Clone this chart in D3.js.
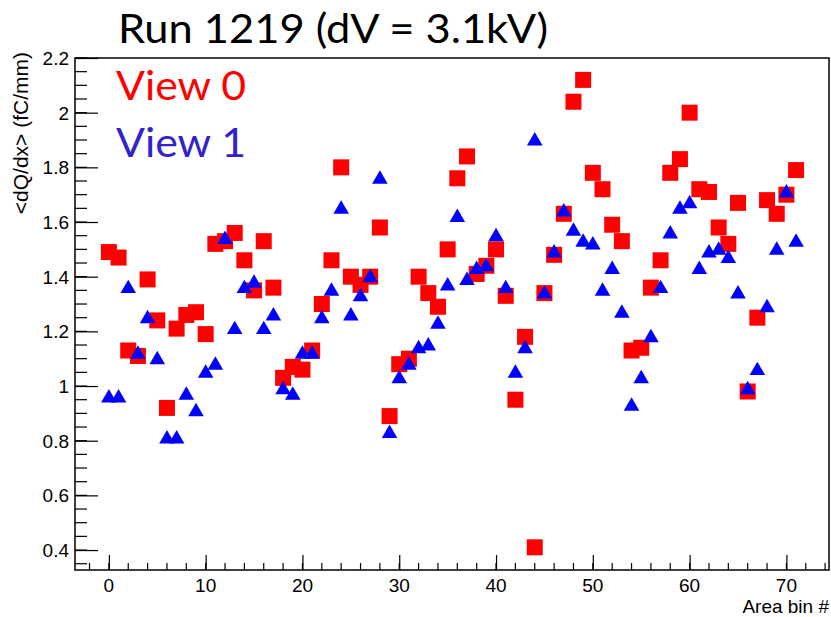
<!DOCTYPE html>
<html>
<head>
<meta charset="utf-8">
<script src="https://cdn.jsdelivr.net/npm/d3@7"></script>
<style>
  html, body { margin: 0; padding: 0; background: #fff; }
  svg { display: block; }
</style>
</head>
<body>
<svg id="chart" width="831" height="617"></svg>
<script>
const titleText = "Run 1219 (dV = 3.1kV)";
const xTitle = "Area bin #";
const yTitle = "<dQ/dx> (fC/mm)";
const seriesNames = ["View 0", "View 1"];

const bins = d3.range(0, 72);
const view0 = [1.49, 1.47, 1.13, 1.11, 1.39, 1.24, 0.92, 1.21, 1.26, 1.27, 1.19, 1.52, 1.53, 1.56, 1.46, 1.35,
  1.53, 1.36, 1.03, 1.07, 1.06, 1.13, 1.30, 1.46, 1.80, 1.40, 1.37, 1.40, 1.58, 0.89,
  1.08, 1.10, 1.40, 1.34, 1.29, 1.50, 1.76, 1.84, 1.41, 1.44, 1.50, 1.33, 0.95, 1.18,
  0.41, 1.34, 1.48, 1.63, 2.04, 2.12, 1.78, 1.72, 1.59, 1.53, 1.13, 1.14, 1.36, 1.46,
  1.78, 1.83, 2.00, 1.72, 1.71, 1.58, 1.52, 1.67, 0.98, 1.25, 1.68, 1.63, 1.70, 1.79];
const view1 = [0.96, 0.96, 1.36, 1.12, 1.25, 1.10, 0.81, 0.81, 0.97, 0.91, 1.05, 1.08, 1.54, 1.21, 1.36, 1.38,
  1.21, 1.26, 0.99, 0.97, 1.12, 1.12, 1.25, 1.35, 1.65, 1.26, 1.33, 1.40, 1.76, 0.83,
  1.03, 1.08, 1.14, 1.15, 1.23, 1.37, 1.62, 1.39, 1.43, 1.44, 1.55, 1.36, 1.05, 1.14,
  1.90, 1.34, 1.49, 1.64, 1.57, 1.53, 1.52, 1.35, 1.43, 1.27, 0.93, 1.03, 1.18, 1.36,
  1.56, 1.65, 1.67, 1.43, 1.49, 1.50, 1.47, 1.34, 0.99, 1.06, 1.29, 1.50, 1.71, 1.53];
const xTicks = [0, 10, 20, 30, 40, 50, 60, 70];
const yTicks = [0.4, 0.6, 0.8, 1, 1.2, 1.4, 1.6, 1.8, 2, 2.2];

const svg = d3.select("#chart");
const L = 75, R = 829, T = 58, B = 570;
const x = d3.scaleLinear().domain([-3.5, 74.4]).range([L, R]);
const y = d3.scaleLinear().domain([0.327, 2.2]).range([B, T]);
const FONT = "Liberation Sans, Arial, Helvetica, sans-serif";
const BIG = "Lato, 'Open Sans', sans-serif";

svg.append("rect").attr("width", 831).attr("height", 617).attr("fill", "#fff");

// markers
const blue = "#0000ff", red = "#ff0000";
const g = svg.append("g");
g.selectAll("rect.v0").data(bins).join("rect").attr("class", "v0")
  .attr("x", d => x(d) - 8).attr("y", (d, i) => y(view0[i]) - 8)
  .attr("width", 16).attr("height", 16).attr("fill", red);
const tri = d3.symbol().type(d3.symbolTriangle).size(105);
g.selectAll("path.v1").data(bins).join("path").attr("class", "v1")
  .attr("transform", (d, i) => `translate(${x(d)},${y(view1[i]) + 1})`)
  .attr("d", tri).attr("fill", blue);

// frame
svg.append("rect").attr("x", L).attr("y", T).attr("width", R - L).attr("height", B - T)
  .attr("fill", "none").attr("stroke", "#000").attr("stroke-width", 1.5);

// y axis ticks
const yAx = svg.append("g").attr("transform", `translate(${L},0)`);
const yMinor = d3.range(0.35, 2.2001, 0.05).filter(v => v > 0.327);
yAx.selectAll("line.mi").data(yMinor).join("line").attr("class", "mi")
  .attr("x1", 0).attr("x2", 12).attr("y1", d => y(d)).attr("y2", d => y(d))
  .attr("stroke", "#000").attr("stroke-width", 1.2);
yAx.call(d3.axisRight(y).tickValues(yTicks).tickSize(23).tickFormat(""))
  .call(a => a.select(".domain").remove())
  .call(a => a.selectAll(".tick line").attr("stroke-width", 1.2));
yAx.selectAll("text.lab").data(yTicks).join("text").attr("class", "lab")
  .attr("x", -6).attr("y", d => y(d)).attr("dy", "0.36em")
  .attr("text-anchor", "end").attr("fill", "#000")
  .attr("font-family", FONT).attr("font-size", 19)
  .text(d => d3.format("~g")(d));

// x axis ticks
const xAx = svg.append("g").attr("transform", `translate(0,${B})`);
const xMinor = d3.range(-2, 75, 2);
xAx.selectAll("line.mi").data(xMinor).join("line").attr("class", "mi")
  .attr("x1", d => x(d)).attr("x2", d => x(d)).attr("y1", 0).attr("y2", -7)
  .attr("stroke", "#000").attr("stroke-width", 1.2);
xAx.call(d3.axisTop(x).tickValues(xTicks).tickSize(15).tickFormat(""))
  .call(a => a.select(".domain").remove())
  .call(a => a.selectAll(".tick line").attr("stroke-width", 1.2));
xAx.selectAll("text.lab").data(xTicks).join("text").attr("class", "lab")
  .attr("x", d => x(d)).attr("y", 22)
  .attr("text-anchor", "middle").attr("fill", "#000")
  .attr("font-family", FONT).attr("font-size", 19)
  .text(d => d);

// axis titles
svg.append("text").attr("x", 829).attr("y", 613).attr("text-anchor", "end")
  .attr("font-family", FONT).attr("font-size", 19)
  .text(xTitle);
svg.append("text").attr("transform", "translate(28,52) rotate(-90)").attr("text-anchor", "end")
  .attr("font-family", FONT).attr("font-size", 21)
  .text(yTitle);

// title & legend
svg.append("text").attr("x", 118).attr("y", 43)
  .attr("font-family", BIG).attr("font-size", 41)
  .attr("textLength", 430).attr("lengthAdjust", "spacingAndGlyphs")
  .text(titleText);
svg.append("text").attr("x", 116).attr("y", 100)
  .attr("font-family", BIG).attr("font-size", 41)
  .attr("textLength", 130).attr("lengthAdjust", "spacingAndGlyphs")
  .attr("fill", "#ff0000").text(seriesNames[0]);
svg.append("text").attr("x", 116).attr("y", 157)
  .attr("font-family", BIG).attr("font-size", 41)
  .attr("textLength", 130).attr("lengthAdjust", "spacingAndGlyphs")
  .attr("fill", "#3322cc").text(seriesNames[1]);
</script>
</body>
</html>
